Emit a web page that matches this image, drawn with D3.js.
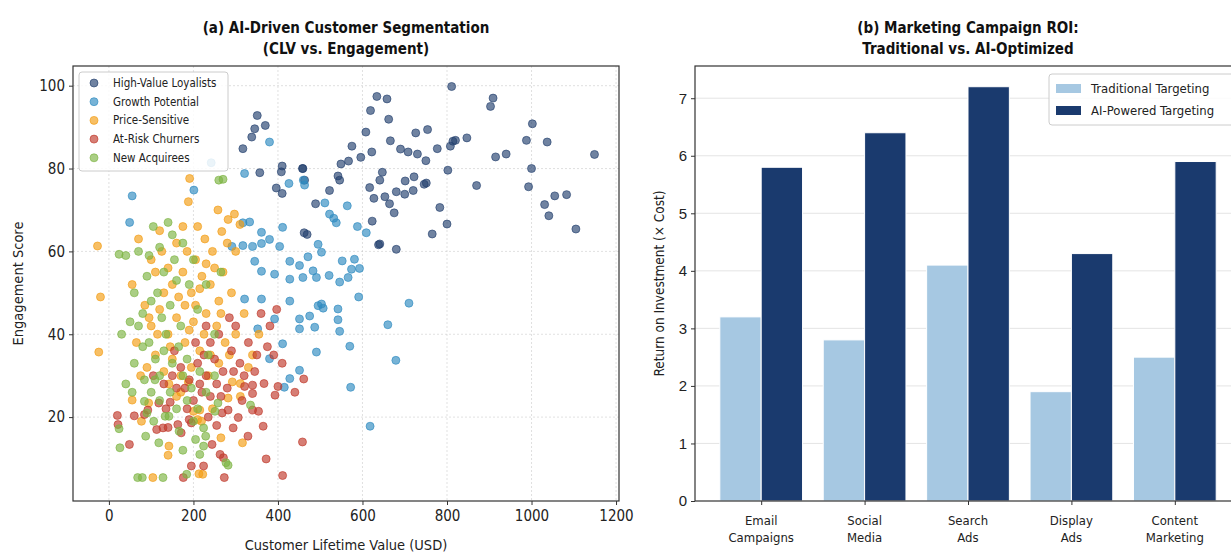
<!DOCTYPE html>
<html>
<head>
<meta charset="utf-8">
<script src="https://cdn.jsdelivr.net/npm/d3@7.9.0/dist/d3.min.js"></script>
<style>
  body { margin: 0; background: #fff; }
  svg { display: block; font-family: "DejaVu Sans Condensed", "DejaVu Sans", sans-serif; }
</style>
</head>
<body>
<svg id="chart" width="1231" height="553"></svg>
<script>
// ---- panel (a) data: [CLV, engagement] pairs ----
const highValue = [[811,99.8],[634,97.4],[658,96.8],[909,97],[903,95],[619,94],[662,91.9],[1002,90.8],[608,88.8],[726,88.6],[754,89.4],[847,87.4],[814,86.6],[808,85.4],[820,86.8],[988,86.8],[1037,86.4],[575,85.4],[666,86.7],[690,84.7],[708,84],[730,83.5],[777,84.8],[596,82.7],[622,84],[750,81.9],[549,81.1],[567,81.8],[915,82.8],[940,83.5],[1149,83.4],[802,79.6],[1000,80],[459,80],[647,79.1],[641,77.2],[542,78.2],[546,77.2],[722,78],[701,77],[751,76.5],[746,76.2],[870,75.9],[993,75.6],[617,75.4],[522,74.7],[680,74.4],[700,73.8],[720,74.7],[627,72.8],[653,73.2],[1055,73.4],[1083,73.7],[664,71.5],[675,69.3],[1031,71.3],[1041,68.6],[783,70.6],[489,71.5],[623,67.3],[800,66.6],[765,64.2],[1105,65.4],[641,61.8],[638,61.6],[680,60.5],[462,64.5],[469,64.1],[351,92.8],[345,89.6],[370,90.4],[338,87.6],[317,84.8],[357,79],[410,80.6],[408,79.2],[458,80],[396,75.3],[410,74],[463,77.2]];
const growth = [[380,86.4],[321,78.8],[426,76.4],[242,81.4],[55,73.4],[201,74.8],[460,77.2],[463,76],[511,71.7],[564,71],[522,69],[532,68],[538,66.9],[588,66],[609,64.5],[495,61.7],[503,59.8],[471,58.7],[552,57.7],[581,58.1],[593,55.9],[574,55.7],[483,55.3],[491,53.7],[459,53.7],[521,54.2],[546,52.6],[566,53.7],[591,49],[710,47.5],[495,46.9],[503,47.3],[507,46.3],[542,46.1],[542,43.5],[546,40.7],[451,43.7],[475,44.4],[487,41.7],[660,42.3],[570,37.1],[491,35.7],[679,33.7],[618,17.8],[572,27.2],[415,27.2],[49,67],[291,61.2],[317,61.4],[340,61.2],[361,61.9],[380,62.9],[404,61.2],[428,57.6],[345,57.6],[361,55.2],[392,54.5],[428,53.3],[451,56.6],[321,48.5],[361,48.5],[392,43.7],[428,48],[451,41.3],[352,41.3],[411,37.7],[380,34.1],[428,29.3],[451,31.3],[333,67.1],[361,64.6],[411,65.8],[317,66.9]];
const priceSensitive = [[-27,61.3],[-20,49],[-24,35.7],[191,77.6],[104,5.4],[213,6.3],[222,6.2],[140,10.8],[142,13],[55,24.1],[77,19],[94,23.4],[200,21.4],[215,21.7],[210,19.4],[219,19],[282,24.6],[316,13.8],[311,25],[311,28.1],[292,28.5],[142,28],[170,26],[188,28.5],[297,69],[282,67.7],[310,66.5],[267,64.8],[227,63],[188,72],[258,70],[245,60],[205,58],[160,62],[125,60],[110,55],[150,52],[175,55],[195,50],[220,54],[240,52],[270,55],[290,50],[85,47],[100,42],[120,46],[140,40],[160,44],[180,38],[200,43],[215,36],[230,45],[255,42],[275,38],[300,40],[65,38],[90,32],[110,35],[130,31],[150,34],[170,30],[195,32],[235,30],[260,33],[285,35],[320,45],[340,35],[120,65],[100,58],[175,66],[210,66],[260,48],[140,56],[55,52],[75,30],[160,25],[245,22],[265,15],[330,32],[355,40],[180,47],[225,40],[300,60],[70,63],[185,60],[230,57],[165,49],[205,47],[250,56],[130,50],[95,44],[215,51],[190,41],[145,37],[265,45],[240,35],[115,40],[280,62]];
const atRisk = [[21.5,18.2],[48.5,13.4],[176,5.4],[273,5.4],[411,5.9],[372,9.9],[458,14],[195,8.2],[224,8.2],[263,11],[271,10.2],[113,17],[128,17.4],[140,17.5],[60,20.3],[84,20.6],[92,21.7],[118,23.4],[145,23.6],[163,18.2],[171,16.2],[190,19.4],[195,18.6],[244,13.4],[268,21],[282,21.7],[306,19.9],[294,17.4],[329,15.4],[340,21.7],[354,21.4],[365,17.8],[321,27.4],[340,27.7],[340,25.7],[367,28.1],[393,25.3],[400,27.4],[461,29.2],[20,20.4],[397,46],[381,42],[375,37],[350,35],[330,38],[310,33],[290,36],[270,31],[250,34],[230,30],[210,33],[190,29],[170,32],[150,30],[130,28],[260,40],[240,38],[300,42],[320,30],[280,27],[220,26],[200,24],[180,27],[240,25],[255,28],[105,30],[410,33],[345,31],[440,26],[390,35],[360,45],[230,42],[205,38],[155,36],[285,44],[215,28],[265,25],[185,22],[235,20],[160,27],[295,31],[225,35],[135,22],[315,24],[255,18]];
const newAcq = [[24,59.3],[24,17.2],[26,12.6],[68,5.4],[79,5.4],[128,5.4],[184,6.2],[277,9],[282,8.4],[118,13.8],[87,15.4],[106,19],[142,20.2],[133,20.2],[84,23.8],[166,16.6],[205,14.6],[215,11],[224,13],[224,17.4],[229,15.4],[335,22.9],[84,29],[109,29],[251,21.4],[258,23.4],[260,77.2],[270,77.4],[40,59],[70,60],[95,59],[120,61],[150,64],[175,62],[200,58],[105,66],[140,67],[130,55],[160,53],[190,52],[60,50],[80,45],[100,48],[125,44],[145,47],[170,42],[210,46],[230,52],[80,37],[95,38],[110,34],[130,36],[150,33],[175,30],[195,27],[215,31],[235,35],[250,40],[60,33],[40,28],[55,26],[100,26],[120,24],[160,22],[185,24],[210,22],[30,40],[50,43],[70,42],[250,30],[265,55],[115,50],[90,54],[135,40],[165,37],[185,34],[155,58],[120,30],[200,19],[175,12],[145,26],[90,21],[230,26]];

const segNames = ["High-Value Loyalists", "Growth Potential", "Price-Sensitive", "At-Risk Churners", "New Acquirees"];
const segColors = ["#24416e", "#2e8bc0", "#f39c12", "#c0392b", "#7cb342"];
const segData = [highValue, growth, priceSensitive, atRisk, newAcq];
const xTicksA = [0, 200, 400, 600, 800, 1000, 1200];
const yTicksA = [20, 40, 60, 80, 100];

// ---- panel (b) data ----
const channels = [["Email", "Campaigns"], ["Social", "Media"], ["Search", "Ads"], ["Display", "Ads"], ["Content", "Marketing"]];
const traditionalROI = [3.2, 2.8, 4.1, 1.9, 2.5];
const aiROI = [5.8, 6.4, 7.2, 4.3, 5.9];
const seriesNames = ["Traditional Targeting", "AI-Powered Targeting"];
const seriesColors = ["#a6c8e2", "#1a3a6e"];
const yTicksB = [0, 1, 2, 3, 4, 5, 6, 7];

const svg = d3.select("#chart");
const frameColor = "#333";

// =========================== panel (a) ===========================
const A = { left: 73, right: 619, top: 66, bottom: 501 };
const xA = d3.scaleLinear().domain([-85, 1207]).range([A.left, A.right]);
const yA = d3.scaleLinear().domain([-0.25, 104.75]).range([A.bottom, A.top]);

const gA = svg.append("g");

// grid
gA.append("g").selectAll("line").data(xTicksA).join("line")
  .attr("x1", d => xA(d)).attr("x2", d => xA(d))
  .attr("y1", A.top).attr("y2", A.bottom)
  .attr("stroke", "#bbb").attr("stroke-opacity", 0.45).attr("stroke-dasharray", "2,2");
gA.append("g").selectAll("line").data(yTicksA).join("line")
  .attr("x1", A.left).attr("x2", A.right)
  .attr("y1", d => yA(d)).attr("y2", d => yA(d))
  .attr("stroke", "#bbb").attr("stroke-opacity", 0.45).attr("stroke-dasharray", "2,2");

// points
segData.forEach((pts, i) => {
  gA.append("g").selectAll("circle").data(pts).join("circle")
    .attr("cx", d => xA(d[0])).attr("cy", d => yA(d[1]))
    .attr("r", 4)
    .attr("fill", segColors[i]).attr("fill-opacity", 0.65)
    .attr("stroke", segColors[i]).attr("stroke-opacity", 0.8).attr("stroke-width", 0.8);
});

// axes
const axA = gA.append("g").attr("transform", `translate(0,${A.bottom})`)
  .call(d3.axisBottom(xA).tickValues(xTicksA).tickFormat(d3.format("d")).tickSize(4).tickPadding(5));
const ayA = gA.append("g").attr("transform", `translate(${A.left},0)`)
  .call(d3.axisLeft(yA).tickValues(yTicksA).tickSize(4).tickPadding(4));
[axA, ayA].forEach(a => {
  a.select(".domain").remove();
  a.selectAll("text").attr("font-size", 15).attr("fill", "#222").attr("font-family", "DejaVu Sans Condensed, DejaVu Sans");
  a.selectAll("line").attr("stroke", frameColor);
});
gA.append("rect").attr("x", A.left).attr("y", A.top)
  .attr("width", A.right - A.left).attr("height", A.bottom - A.top)
  .attr("fill", "none").attr("stroke", frameColor).attr("stroke-width", 1.2);

// legend
const legA = gA.append("g").attr("transform", "translate(79,72)");
legA.append("rect").attr("width", 149).attr("height", 99).attr("rx", 3)
  .attr("fill", "#fff").attr("fill-opacity", 0.85).attr("stroke", "#ccc");
segNames.forEach((n, i) => {
  const row = legA.append("g").attr("transform", `translate(0,${11 + i * 18.7})`);
  row.append("circle").attr("cx", 15).attr("cy", 0).attr("r", 4)
    .attr("fill", segColors[i]).attr("fill-opacity", 0.65)
    .attr("stroke", segColors[i]).attr("stroke-opacity", 0.8).attr("stroke-width", 0.8);
  row.append("text").attr("x", 34).attr("y", 4).attr("font-size", 11.5).attr("fill", "#222").text(n);
});

// titles & labels
const titleA = svg.append("text").attr("text-anchor", "middle")
  .attr("font-weight", "bold").attr("font-size", 15).attr("fill", "#111");
titleA.append("tspan").attr("x", (A.left + A.right) / 2).attr("y", 33).text("(a) AI-Driven Customer Segmentation");
titleA.append("tspan").attr("x", (A.left + A.right) / 2).attr("y", 54).text("(CLV vs. Engagement)");
svg.append("text").attr("x", (A.left + A.right) / 2).attr("y", 550).attr("text-anchor", "middle")
  .attr("font-size", 14.5).attr("fill", "#222").text("Customer Lifetime Value (USD)");
svg.append("text").attr("transform", `translate(23,${(A.top + A.bottom) / 2}) rotate(-90)`)
  .attr("text-anchor", "middle").attr("font-size", 14.5).attr("fill", "#222").text("Engagement Score");

// =========================== panel (b) ===========================
const B = { left: 695, right: 1241, top: 66, bottom: 501 };
const xB = d3.scaleLinear().domain([-0.64, 4.64]).range([B.left, B.right]);
const yB = d3.scaleLinear().domain([0, 7.56]).range([B.bottom, B.top]);
const barW = 0.4;

const gB = svg.append("g");
gB.append("g").selectAll("line").data(yTicksB.slice(1)).join("line")
  .attr("x1", B.left).attr("x2", B.right)
  .attr("y1", d => yB(d)).attr("y2", d => yB(d))
  .attr("stroke", "#ccc").attr("stroke-opacity", 0.5);

[traditionalROI, aiROI].forEach((vals, s) => {
  gB.append("g").selectAll("rect").data(vals).join("rect")
    .attr("x", (d, i) => xB(i + (s === 0 ? -barW : 0)))
    .attr("width", xB(barW) - xB(0))
    .attr("y", d => yB(d)).attr("height", d => yB(0) - yB(d))
    .attr("fill", seriesColors[s]).attr("stroke", "#fff").attr("stroke-width", 1);
});

const ayB = gB.append("g").attr("transform", `translate(${B.left},0)`)
  .call(d3.axisLeft(yB).tickValues(yTicksB).tickSize(4).tickPadding(4));
ayB.select(".domain").remove();
ayB.selectAll("text").attr("font-size", 15).attr("fill", "#222");
ayB.selectAll("line").attr("stroke", frameColor);

const axB = gB.append("g").attr("transform", `translate(0,${B.bottom})`)
  .call(d3.axisBottom(xB).tickValues(d3.range(channels.length)).tickSize(4).tickFormat(""));
axB.select(".domain").remove();
axB.selectAll("line").attr("stroke", frameColor);
const labB = gB.append("g").selectAll("text").data(channels).join("text")
  .attr("text-anchor", "middle").attr("font-size", 13).attr("fill", "#222");
labB.append("tspan").attr("x", (d, i) => xB(i)).attr("y", 525).text(d => d[0]);
labB.append("tspan").attr("x", (d, i) => xB(i)).attr("y", 542).text(d => d[1]);

gB.append("rect").attr("x", B.left).attr("y", B.top)
  .attr("width", B.right - B.left).attr("height", B.bottom - B.top)
  .attr("fill", "none").attr("stroke", frameColor).attr("stroke-width", 1.2);

const legB = gB.append("g").attr("transform", "translate(1049,74)");
legB.append("rect").attr("width", 200).attr("height", 51).attr("rx", 3)
  .attr("fill", "#fff").attr("fill-opacity", 0.85).attr("stroke", "#ccc");
seriesNames.forEach((n, i) => {
  const row = legB.append("g").attr("transform", `translate(0,${14 + i * 22})`);
  row.append("rect").attr("x", 7).attr("y", -4).attr("width", 25).attr("height", 9).attr("fill", seriesColors[i]);
  row.append("text").attr("x", 42).attr("y", 5).attr("font-size", 13).attr("fill", "#222").text(n);
});

const titleB = svg.append("text").attr("text-anchor", "middle")
  .attr("font-weight", "bold").attr("font-size", 15).attr("fill", "#111");
titleB.append("tspan").attr("x", (B.left + B.right) / 2).attr("y", 33).text("(b) Marketing Campaign ROI:");
titleB.append("tspan").attr("x", (B.left + B.right) / 2).attr("y", 54).text("Traditional vs. AI-Optimized");
svg.append("text").attr("transform", `translate(664,${(B.top + B.bottom) / 2}) rotate(-90)`)
  .attr("text-anchor", "middle").attr("font-size", 13.5).attr("fill", "#222").text("Return on Investment (× Cost)");
</script>
</body>
</html>
